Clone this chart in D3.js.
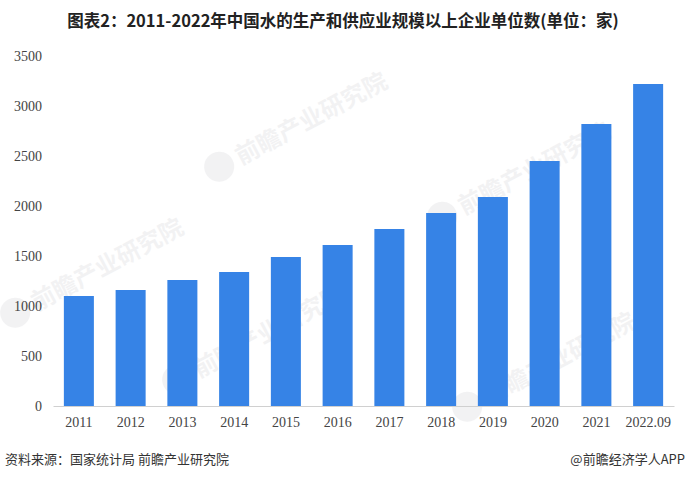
<!DOCTYPE html>
<html><head><meta charset="utf-8">
<script src="https://cdn.jsdelivr.net/npm/d3@7"></script>
<style>body{margin:0;background:#fff}svg{display:block}</style>
</head><body><svg id="c" width="686" height="479"></svg>
<script>
const categories = ["2011","2012","2013","2014","2015","2016","2017","2018","2019","2020","2021","2022.09"];
const values = [1100,1160,1260,1340,1490,1610,1770,1930,2090,2450,2820,3220];
const yTicks = [0,500,1000,1500,2000,2500,3000,3500];
const title = "图表2：2011-2022年中国水的生产和供应业规模以上企业单位数(单位：家)";
const source = "资料来源：国家统计局 前瞻产业研究院";
const credit = "@前瞻经济学人APP";

const svg = d3.select("#c");
const m = {left:53, right:12, top:56, bottom:73};
const W = 686, H = 479;
const x = d3.scaleBand().domain(categories).range([m.left, W - m.right]).paddingInner(0.42).paddingOuter(0.21);
const y = d3.scaleLinear().domain([0,3500]).range([H - m.bottom, m.top]);

// faint watermarks
const wm = [[222,172],[445,222],[18,318],[180,385],[470,412]];
wm.forEach(([wx,wy])=>{
  const g = svg.append("g").attr("transform",`translate(${wx},${wy}) rotate(-28)`).attr("opacity",0.07);
  g.append("circle").attr("cx",0).attr("cy",-6).attr("r",15).attr("fill","#556");
  g.append("text").attr("x",20).attr("y",3).attr("font-family","Noto Sans CJK SC").attr("font-size",24).attr("font-weight","bold").attr("fill","#556").text("前瞻产业研究院");
});

svg.append("text").attr("x",343).attr("y",27).attr("text-anchor","middle")
  .attr("font-family","Noto Sans CJK SC").attr("font-weight","bold").attr("font-size",16.5).attr("fill","#222").text(title);

svg.append("g").selectAll("rect").data(values).join("rect")
  .attr("x",(d,i)=>x(categories[i])).attr("width",x.bandwidth())
  .attr("y",d=>y(d)).attr("height",d=>y(0)-y(d)).attr("fill","#3683E6");

const yAxis = d3.axisLeft(y).tickValues(yTicks).tickFormat(d3.format("d")).tickSize(0).tickPadding(11);
const gy = svg.append("g").attr("transform",`translate(${m.left},0)`).call(yAxis);
gy.select(".domain").remove();
gy.selectAll("text").attr("font-family","Liberation Serif").attr("font-size",14).attr("fill","#444");

const xAxis = d3.axisBottom(x).tickSize(0).tickPadding(11);
const gx = svg.append("g").attr("transform",`translate(0,${y(0)})`).call(xAxis);
gx.select(".domain").attr("stroke","#d0d0d0");
gx.selectAll("text").attr("font-family","Liberation Serif").attr("font-size",14).attr("fill","#444");

svg.append("text").attr("x",5).attr("y",464).attr("font-family","Noto Sans CJK SC").attr("font-size",13).attr("fill","#333").text(source);
svg.append("text").attr("x",685).attr("y",464).attr("text-anchor","end").attr("font-family","Noto Sans CJK SC").attr("font-size",13).attr("fill","#333").text(credit);
</script></body></html>
